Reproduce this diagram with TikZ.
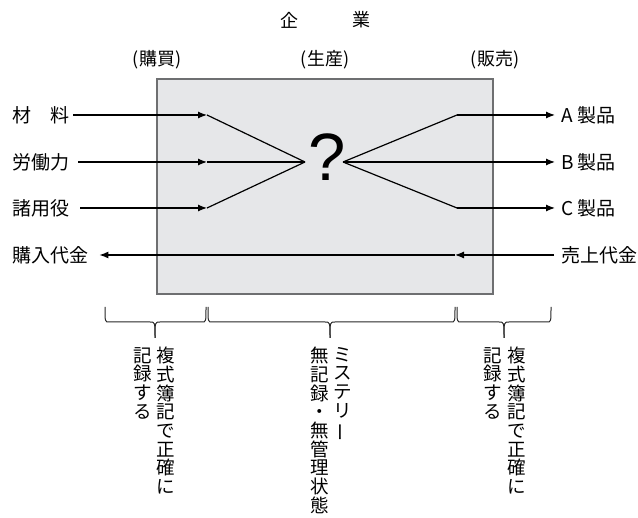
\documentclass[tikz,border=0pt]{standalone}
\usepackage{fontspec}
\setmainfont{Noto Sans CJK JP}
\newfontfamily\qfont{Liberation Sans}
\usetikzlibrary{arrows.meta}
\definecolor{boxgray}{HTML}{6E6F71}
\definecolor{boxfill}{HTML}{E6E7E9}
\begin{document}
\begin{tikzpicture}[x=1pt,y=-1pt,
  lbl/.style={font=\fontsize{19}{21}\selectfont, inner sep=0pt},
  hdr/.style={font=\fontsize{18}{20}\selectfont, inner sep=0pt},
  conn/.style={line width=1.2pt, black},
  arr/.style={conn, -{Latex[length=9pt,width=7pt]}},
  vcol/.style={font=\fontsize{18.5}{18.7}\selectfont, align=center, inner sep=0pt, anchor=north},
  bracepath/.style={line width=1pt, black!85}]
\useasboundingbox (0,0) rectangle (638,518);
% headings
\node[hdr] (ki) at (289,20) {企};
\node[hdr] (gyo) at (361,20) {業};
\node[hdr] (kobai) at (157,60) {(購買)};
\node[hdr] (seisan) at (325,60) {(生産)};
\node[hdr] (hanbai) at (495,60) {(販売)};
% box
\node[draw=boxgray, fill=boxfill, line width=2.6pt, minimum width=336pt, minimum height=215pt, inner sep=0pt] (box) at (325,186.5) {};
% question mark
\node[font=\qfont\fontsize{67}{67}\selectfont, inner sep=0pt] (q) at (327,157.5) {?};
% left labels
\node[lbl, anchor=west] (zai) at (12,115) {材　料};
\node[lbl, anchor=west] (rou) at (12,162) {労働力};
\node[lbl, anchor=west] (sho) at (12,208) {諸用役};
\node[lbl, anchor=west] (kon) at (12,255) {購入代金};
% right labels
\node[lbl, anchor=west] (pa) at (561,115) {A 製品};
\node[lbl, anchor=west] (pb) at (561,162) {B 製品};
\node[lbl, anchor=west] (pc) at (561,208) {C 製品};
\node[lbl, anchor=west] (uri) at (561,255) {売上代金};
% internal points
\coordinate (in1) at (207,115);
\coordinate (in2) at (207,162);
\coordinate (in3) at (207,208);
\coordinate (ql) at (305,162);
\coordinate (qr) at (343,162);
\coordinate (out1) at (457,115);
\coordinate (out2) at (457,162);
\coordinate (out3) at (457,208);
\coordinate (mid) at (455,255);
% inputs
\draw[arr] ([xshift=4pt]zai.east) -- (in1);
\draw[arr] ([xshift=9pt]rou.east) -- (in2);
\draw[arr] ([xshift=11pt]sho.east) -- (in3);
\draw[conn] (in1) -- (ql);
\draw[conn] (in2) -- (ql);
\draw[conn] (in3) -- (ql);
% outputs
\draw[conn] (qr) -- (out1);
\draw[conn] (qr) -- (out2);
\draw[conn] (qr) -- (out3);
\draw[arr] (out1) -- ([xshift=-6pt]pa.west);
\draw[arr] (out2) -- ([xshift=-6pt]pb.west);
\draw[arr] (out3) -- ([xshift=-6pt]pc.west);
% money flow
\draw[arr] ([xshift=-7pt]uri.west) -- (mid);
\draw[arr] (mid) -- ([xshift=11pt]kon.east);
% braces
\draw[bracepath] (105,307) .. controls (105,322) .. (109,322) -- (150,322) .. controls (155,322) .. (155,338);
\draw[bracepath] (206,307) .. controls (206,322) .. (202,322) -- (160,322) .. controls (155,322) .. (155,338);
\draw[bracepath] (208,307) .. controls (208,322) .. (212,322) -- (325,322) .. controls (330,322) .. (330,338);
\draw[bracepath] (455,307) .. controls (455,322) .. (451,322) -- (335,322) .. controls (330,322) .. (330,338);
\draw[bracepath] (457,307) .. controls (457,322) .. (461,322) -- (499,322) .. controls (504,322) .. (504,338);
\draw[bracepath] (551,307) .. controls (551,322) .. (547,322) -- (509,322) .. controls (504,322) .. (504,338);
% vertical texts
\node[vcol] (v1a) at (166,347) {複\\式\\簿\\記\\で\\正\\確\\に};
\node[vcol] (v1b) at (143,347) {記\\録\\す\\る};
\node[vcol] (v2a) at (343,347) {ミ\\ス\\テ\\リ\\\rotatebox[origin=c]{90}{ー}};
\node[vcol] (v2b) at (320,347) {無\\記\\録\\・\\無\\管\\理\\状\\態};
\node[vcol] (v3a) at (517,347) {複\\式\\簿\\記\\で\\正\\確\\に};
\node[vcol] (v3b) at (493,347) {記\\録\\す\\る};
\end{tikzpicture}
\end{document}
